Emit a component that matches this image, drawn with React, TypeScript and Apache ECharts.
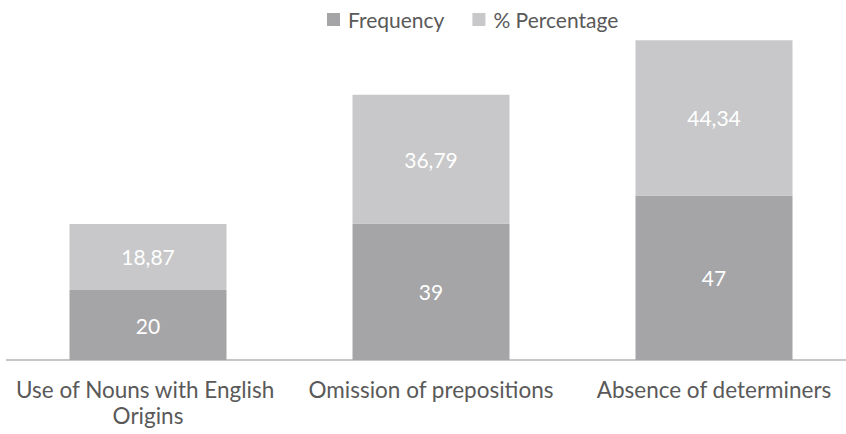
import React, { useEffect, useRef } from "react";
import * as echarts from "echarts";

const categories = [
  "Use of Nouns with English Origins",
  "Omission of prepositions",
  "Absence of determiners",
];
const frequency = [20, 39, 47];
const percentage = [18.87, 36.79, 44.34];
const seriesNames = ["Frequency", "% Percentage"];

const FONT = "Lato";

export default function App() {
  const ref = useRef<HTMLDivElement>(null);
  useEffect(() => {
    if (!ref.current) return;
    const chart = echarts.init(ref.current, null, { renderer: "svg" });
    const labelStyle = {
      show: true,
      position: "inside",
      color: "#ffffff",
      fontFamily: FONT,
      fontSize: 21,
    };
    chart.setOption({
      animation: false,
      backgroundColor: "#ffffff",
      legend: {
        top: 4,
        left: 322,
        itemWidth: 13,
        itemHeight: 13,
        itemGap: 28,
        icon: "rect",
        textStyle: {
          fontFamily: FONT,
          fontSize: 21,
          color: "#595959",
          padding: [0, 0, 0, 3],
        },
        data: seriesNames,
      },
      grid: { left: 6.5, width: 849, top: 10, bottom: 74 },
      xAxis: {
        type: "category",
        data: categories,
        axisLine: { lineStyle: { color: "#b4b4b4", width: 1.5 } },
        axisTick: { show: false },
        axisLabel: {
          interval: 0,
          margin: 16,
          width: 268,
          overflow: "break",
          color: "#595959",
          fontFamily: FONT,
          fontSize: 22.5,
          lineHeight: 26,
        },
      },
      yAxis: { type: "value", min: 0, max: 100, show: false },
      series: [
        {
          name: seriesNames[0],
          type: "bar",
          stack: "total",
          barWidth: 157,
          data: frequency,
          itemStyle: { color: "#a5a5a8" },
          label: { ...labelStyle },
        },
        {
          name: seriesNames[1],
          type: "bar",
          stack: "total",
          barWidth: 157,
          data: percentage,
          itemStyle: { color: "#c8c8ca" },
          label: {
            ...labelStyle,
            formatter: (p: any) => String(p.value).replace(".", ","),
          },
        },
      ],
    });
    return () => chart.dispose();
  }, []);
  return (
    <div
      style={{
        position: "fixed",
        left: 0,
        top: 0,
        width: 846,
        height: 434,
        overflow: "hidden",
        background: "#ffffff",
      }}
    >
      <div ref={ref} style={{ width: 870, height: 434 }} />
    </div>
  );
}
